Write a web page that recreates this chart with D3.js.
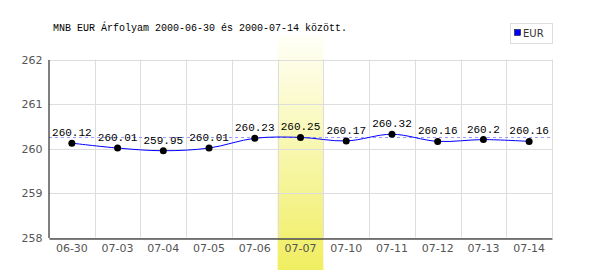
<!DOCTYPE html>
<html>
<head>
<meta charset="utf-8">
<script src="https://cdn.jsdelivr.net/npm/d3@7"></script>
<style>
  body { margin: 0; background: #fff; }
</style>
</head>
<body>
<div id="chart"></div>
<script>
// Data
const dates = ["06-30", "07-03", "07-04", "07-05", "07-06", "07-07", "07-10", "07-11", "07-12", "07-13", "07-14"];
const rates = [260.12, 260.01, 259.95, 260.01, 260.23, 260.25, 260.17, 260.32, 260.16, 260.2, 260.16];
const rateLabels = ["260.12", "260.01", "259.95", "260.01", "260.23", "260.25", "260.17", "260.32", "260.16", "260.2", "260.16"];
const yTicks = [258, 259, 260, 261, 262];
const highlightDate = "07-07";
const refValue = 260.25;
const title = "MNB EUR Árfolyam 2000-06-30 és 2000-07-14 között.";
const seriesName = "EUR";

const width = 600, height = 270;
const margin = { top: 59.5, right: 48, bottom: 32, left: 49 };

const svg = d3.select("#chart")
    .append("svg")
    .attr("width", width)
    .attr("height", height);

const x = d3.scaleBand()
    .domain(dates)
    .range([margin.left, width - margin.right])
    .padding(0);

const y = d3.scaleLinear()
    .domain([258, 262])
    .range([height - margin.bottom - 0.5, margin.top]);

// highlight gradient
const defs = svg.append("defs");
const grad = defs.append("linearGradient")
    .attr("id", "hl")
    .attr("x1", "0%").attr("y1", "0%")
    .attr("x2", "0%").attr("y2", "100%");
grad.append("stop").attr("offset", "0%").attr("stop-color", "#fffff8");
grad.append("stop").attr("offset", "100%").attr("stop-color", "#f0ee60");

svg.append("rect")
    .attr("x", x(highlightDate))
    .attr("y", 35)
    .attr("width", x.bandwidth())
    .attr("height", height - 35)
    .attr("fill", "url(#hl)");

// grid lines
svg.append("g")
    .selectAll("line")
    .data(yTicks)
    .join("line")
    .attr("x1", margin.left)
    .attr("x2", width - margin.right)
    .attr("y1", d => Math.round(y(d)) + 0.5)
    .attr("y2", d => Math.round(y(d)) + 0.5)
    .attr("stroke", "#dddddd");

svg.append("g")
    .selectAll("line")
    .data(dates.slice(1).concat(["end"]))
    .join("line")
    .attr("x1", (d, i) => Math.round(margin.left + (i + 1) * x.bandwidth()) + 0.5)
    .attr("x2", (d, i) => Math.round(margin.left + (i + 1) * x.bandwidth()) + 0.5)
    .attr("y1", margin.top)
    .attr("y2", y(258))
    .attr("stroke", "#dddddd");

// reference dashed line
svg.append("line")
    .attr("x1", margin.left)
    .attr("x2", width - margin.right)
    .attr("y1", Math.round(y(refValue)) + 0.5)
    .attr("y2", Math.round(y(refValue)) + 0.5)
    .attr("stroke", "#9999ff")
    .attr("stroke-dasharray", "3,3");

// axes
const yAxis = svg.append("g")
    .attr("transform", `translate(${margin.left - 0.5},0)`)
    .call(d3.axisLeft(y).tickValues(yTicks).tickFormat(d3.format("d")).tickSize(0).tickPadding(6));
yAxis.select(".domain").attr("stroke", "#000");
yAxis.selectAll("text")
    .style("font-family", "DejaVu Sans")
    .style("font-size", "11px")
    .attr("fill", "#555");

const xAxis = svg.append("g")
    .attr("transform", `translate(0,${Math.round(y(258)) + 0.5})`)
    .call(d3.axisBottom(x).tickSize(0).tickPadding(6));
xAxis.select(".domain").attr("stroke", "#000");
xAxis.selectAll("text")
    .style("font-family", "DejaVu Sans")
    .style("font-size", "11px")
    .attr("fill", "#555");

// series line
const pts = dates.map((d, i) => [x(d) + x.bandwidth() / 2, y(rates[i])]);
svg.append("path")
    .datum(pts)
    .attr("d", d3.line().curve(d3.curveCatmullRom))
    .attr("fill", "none")
    .attr("stroke", "#0000ff")
    .attr("stroke-width", 1);

svg.append("g")
    .selectAll("circle")
    .data(pts)
    .join("circle")
    .attr("cx", d => d[0])
    .attr("cy", d => d[1])
    .attr("r", 3.5)
    .attr("fill", "#000");

svg.append("g")
    .selectAll("text")
    .data(pts)
    .join("text")
    .attr("x", d => d[0])
    .attr("y", d => d[1] - 7)
    .attr("text-anchor", "middle")
    .style("font-family", "Liberation Mono")
    .style("font-size", "11px")
    .attr("fill", "#000")
    .text((d, i) => rateLabels[i]);

// title
svg.append("text")
    .attr("x", 53)
    .attr("y", 31)
    .style("font-family", "Liberation Mono")
    .style("font-size", "10px")
    .attr("fill", "#000")
    .text(title);

// legend
const lg = svg.append("g");
lg.append("rect")
    .attr("x", 510.5).attr("y", 23.5)
    .attr("width", 42).attr("height", 20)
    .attr("fill", "#fff")
    .attr("stroke", "#dddddd");
lg.append("rect")
    .attr("x", 514.5).attr("y", 29.5)
    .attr("width", 6).attr("height", 6)
    .attr("fill", "#0000ff")
    .attr("stroke", "#000")
    .attr("stroke-width", 0.5);
lg.append("text")
    .attr("x", 523).attr("y", 37)
    .style("font-family", "DejaVu Sans")
    .style("font-size", "10px")
    .attr("fill", "#333")
    .text(seriesName);
</script>
</body>
</html>
